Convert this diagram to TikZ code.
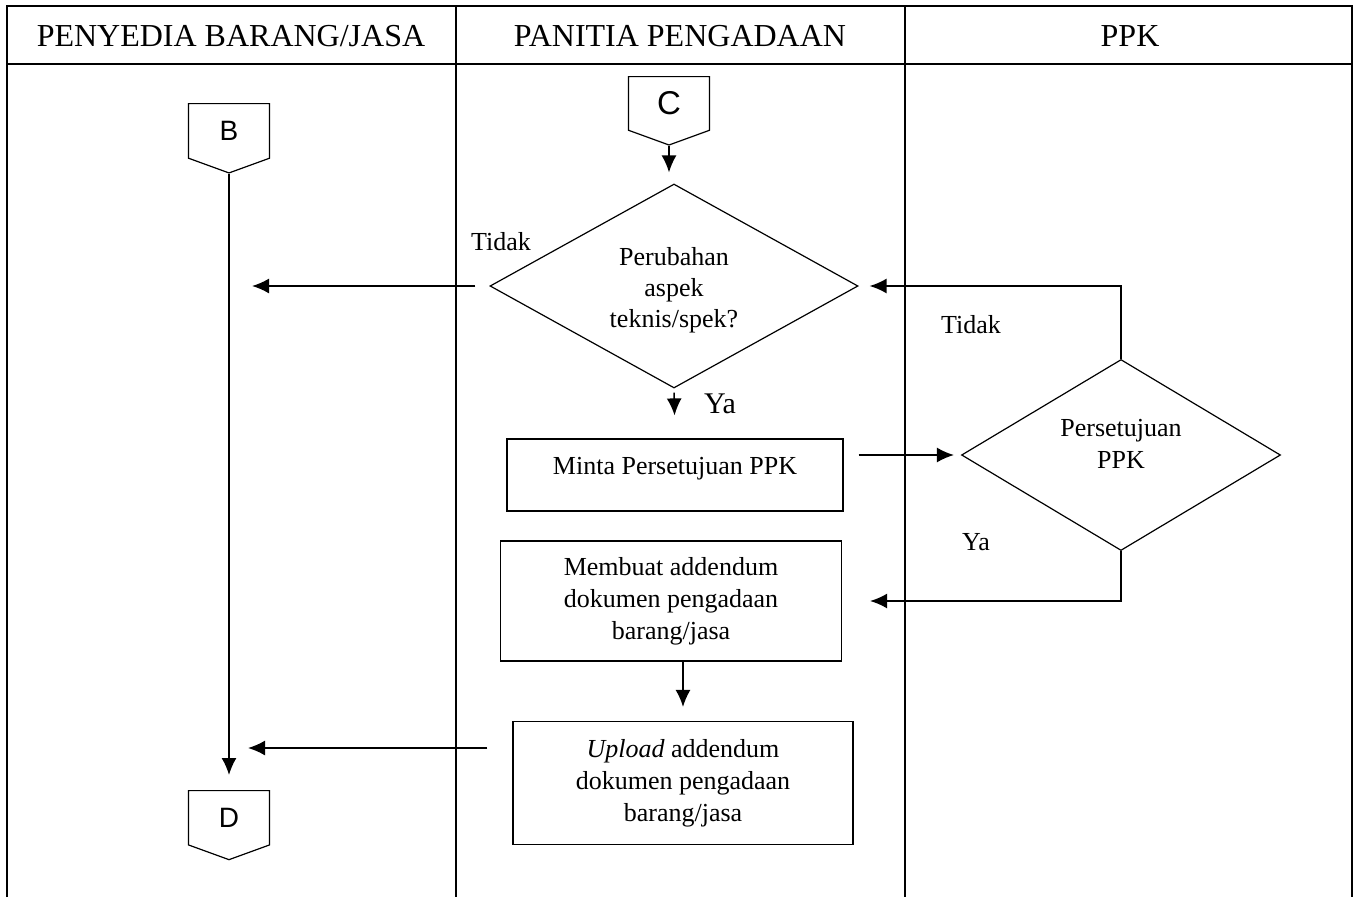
\documentclass[tikz,border=0pt]{standalone}
\usepackage{fontspec}
\setmainfont{Liberation Serif}
\newfontfamily\connfont{Liberation Sans}
\usepackage{tikz}
\usetikzlibrary{calc,arrows.meta,shapes.geometric,shapes.symbols}

\begin{document}
\begin{tikzpicture}[x=1pt,y=-1pt,line width=1.6pt,
    font=\fontsize{26}{32}\selectfont,
    arrow/.style={-{Latex[length=17pt,width=15pt]}},
    connector/.style={draw,signal,signal to=south,signal pointer angle=140,anchor=north,
        minimum width=81pt,minimum height=58pt,inner sep=0pt,line width=1.2pt,
        font=\connfont\fontsize{28}{32}\selectfont},
    process/.style={draw,rectangle,align=center,inner sep=0pt,line width=1.2pt},
    decision/.style={draw,diamond,align=center,inner sep=0pt,line width=1.2pt,
        font=\fontsize{26}{31}\selectfont},
    lane/.style={font=\fontsize{32}{36}\selectfont}]
    \useasboundingbox (0,0) rectangle (1356,897);

    % Swimlanes
    \draw (7,897) -- (7,6) -- (1352,6) -- (1352,897);
    \draw (7,64) -- (1352,64);
    \draw (456,6) -- (456,897);
    \draw (905,6) -- (905,897);
    \node[lane] (lanea) at (231,36) {PENYEDIA BARANG/JASA};
    \node[lane] (laneb) at (680,36) {PANITIA PENGADAAN};
    \node[lane] (lanec) at (1130,36) {PPK};

    % Connectors
    \node[connector] (conb) at (229,103) {B};
    \node[connector,font=\connfont\fontsize{33}{36}\selectfont] (conc) at (669,76) {C};
    \node[connector] (cond) at (229,790) {D};

    % Decisions
    \node[decision,aspect=1.8,minimum width=368pt,minimum height=204pt,
        label={[align=center,font=\fontsize{26}{31}\selectfont,yshift=-4pt]center:Perubahan\\aspek\\teknis/spek?}]
        (ubah) at (674,286) {};
    \node[decision,aspect=1.67,minimum width=319pt,minimum height=191pt,
        label={[align=center,yshift=11pt]center:Persetujuan\\PPK}] (setuju) at (1121,455) {};

    % Processes
    \node[process,minimum width=336pt,text height=35pt,text depth=37pt] (minta) at (675,475)
        {Minta Persetujuan PPK};
    \node[process,minimum width=341pt,minimum height=120pt] (buat) at (671,601)
        {Membuat addendum\\dokumen pengadaan\\barang/jasa};
    \node[process,minimum width=340pt,minimum height=123pt] (upload) at (683,783)
        {\textit{Upload} addendum\\dokumen pengadaan\\barang/jasa};

    % Free ends on the B--D line
    \coordinate (tidakend) at (252,286);
    \coordinate (uploadend) at (248,748);

    % Arrows
    \draw[arrow,shorten >=15pt] (conb.south) -- (cond.north);
    \draw[arrow,shorten >=11pt] (conc.south) -- (conc.south |- ubah.north);
    \draw[arrow,shorten <=14pt] (ubah.west) -- (tidakend);
    \draw[arrow,shorten <=4pt,shorten >=23pt] (ubah.south) -- (minta.north);
    \draw[arrow,shorten <=15pt,shorten >=7pt] (minta.east |- setuju.west) -- (setuju.west);
    \draw[arrow,shorten >=11pt] (setuju.north) |- (ubah.east);
    \draw[arrow,shorten >=28pt] (setuju.south) |- (buat.east);
    \draw[arrow,shorten >=14pt] (buat.south -| upload.north) -- (upload.north);
    \draw[arrow] (upload.west |- uploadend) ++(-25,0) -- (uploadend);

    % Labels
    \node (tidaka) at (501,242) {Tidak};
    \node[font=\fontsize{30}{34}\selectfont] (yaa) at (720,404) {Ya};
    \node (tidakb) at (971,325) {Tidak};
    \node (yab) at (976,542) {Ya};
\end{tikzpicture}
\end{document}
